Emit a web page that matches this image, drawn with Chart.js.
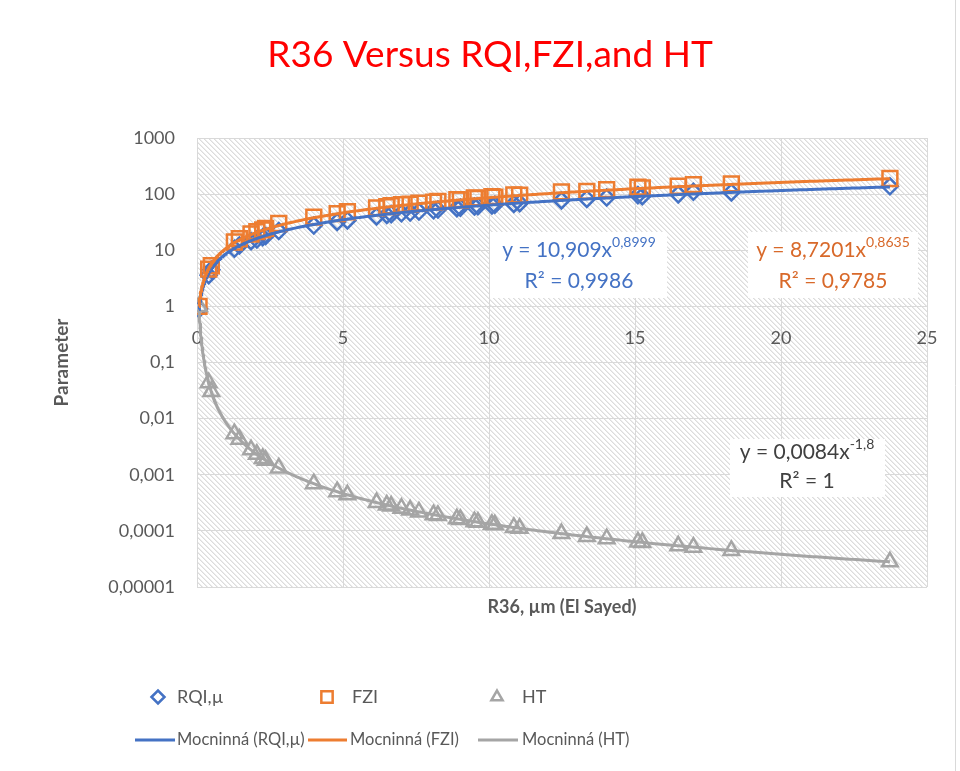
<!DOCTYPE html>
<html><head><meta charset="utf-8">
<script src="https://cdn.jsdelivr.net/npm/chart.js@4/dist/chart.umd.min.js"></script>
<style>html,body{margin:0;padding:0;background:#fff;}#wrap{width:960px;height:771px;}</style>
</head><body><div id="wrap"><canvas id="c" width="960" height="771"></canvas></div>
<script>
// ---- data ----
const xR36 = [0.07, 0.40, 0.49, 1.28, 1.45, 1.85, 2.05, 2.25, 2.35, 2.8, 4.0, 4.8, 5.15, 6.15, 6.5, 6.65, 7.0, 7.3, 7.6, 8.1, 8.25, 8.9, 9.02, 9.5, 9.62, 10.1, 10.2, 10.85, 11.05, 12.48, 13.35, 14.03, 15.1, 15.25, 16.48, 17.0, 18.3, 23.73];
const rqi = [0.9, 3.6, 4.5, 10.6, 12.2, 14.5, 15.5, 17, 18, 22, 27.5, 32, 34, 40, 42.5, 44, 45.5, 47, 49, 51.5, 53, 56, 57.5, 60, 61, 63, 64.5, 67, 69, 77, 82, 87, 96, 92, 99, 110, 107, 138];
const fzi = [1.0, 4.6, 5.3, 14, 16, 19.5, 21.5, 23, 24.5, 30, 39, 45, 48.5, 57, 60, 62, 65, 66, 69, 72, 74, 80, 79, 86, 84, 90, 88, 97, 96, 110, 112, 120, 133, 129, 138, 148, 152, 190];
const ht = [1.0, 0.0437, 0.0303, 0.00539, 0.0043, 0.00278, 0.00231, 0.00195, 0.00181, 0.00132, 0.000692, 0.000499, 0.000439, 0.000319, 0.000289, 0.000277, 0.000253, 0.000235, 0.000218, 0.000194, 0.000188, 0.000164, 0.00016, 0.000146, 0.000143, 0.000131, 0.000128, 0.000115, 0.000111, 0.0000894, 0.0000792, 0.0000724, 0.0000634, 0.0000623, 0.0000542, 0.0000512, 0.0000449, 0.0000281];
const seriesNames = ['RQI,µ', 'FZI', 'HT'];
const trendNames = ['Mocninná (RQI,µ)', 'Mocninná (FZI)', 'Mocninná (HT)'];
// power trendlines (y = a * x^b) as drawn in the reference
const trendCoef = [8.7201, 10.909, 0.0084];
const trendPow = [0.8635, 0.8999, -1.8];
const xTicks = [0, 5, 10, 15, 20, 25];
const yTicks = [0.00001, 0.0001, 0.001, 0.01, 0.1, 1, 10, 100, 1000];
const yTickLabels = ['0,00001', '0,0001', '0,001', '0,01', '0,1', '1', '10', '100', '1000'];
const chartTitle = 'R36 Versus RQI,FZI,and HT';
const eqLabels = [
  {base: 'y = 10,909x', sup: '0,8999', r2: 'R² = 0,9986'},
  {base: 'y = 8,7201x', sup: '0,8635', r2: 'R² = 0,9785'},
  {base: 'y = 0,0084x', sup: '-1,8', r2: 'R² = 1'}
];

const FONT = 'Lato, "Open Sans", sans-serif';
const TXT = '#595959';
const BLUE = '#4472C4', ORANGE = '#ED7D31', GRAY = '#A5A5A5';
const GRID = '#d9d9d9';

function trendCurve(i) {
  const x0 = xR36[0], x1 = xR36[xR36.length - 1];
  const pts = [];
  for (let k = 0; k <= 400; k++) {
    const t = k / 400;
    const x = x0 + (x1 - x0) * t * t;
    pts.push({x: x, y: trendCoef[i] * Math.pow(x, trendPow[i])});
  }
  return pts;
}
const pts = arr => xR36.map((x, i) => ({x: x, y: arr[i]}));

const hatchPlugin = {
  id: 'hatch',
  beforeDraw(chart) {
    const {ctx, chartArea: a} = chart;
    const n = 5;
    const tile = document.createElement('canvas');
    tile.width = n; tile.height = n;
    const t = tile.getContext('2d');
    t.fillStyle = '#ffffff'; t.fillRect(0, 0, n, n);
    t.fillStyle = '#dcdcdc';
    for (let i = 0; i < n; i++) t.fillRect(i, i, 1, 1);
    t.fillStyle = '#ececec';
    for (let i = 0; i < n; i++) t.fillRect((i + 1) % n, i, 1, 1);
    const pat = ctx.createPattern(tile, 'repeat');
    ctx.save();
    ctx.fillStyle = pat;
    ctx.fillRect(a.left, a.top, a.right - a.left, a.bottom - a.top);
    ctx.restore();
  }
};

function drawEq(ctx, cx, y1, y2, lab, color) {
  ctx.save();
  ctx.fillStyle = color;
  ctx.textBaseline = 'middle';
  const bf = '21px ' + FONT, sf = '14px ' + FONT;
  ctx.font = bf; const wb = ctx.measureText(lab.base).width;
  ctx.font = sf; const ws = ctx.measureText(lab.sup).width;
  const sx = cx - (wb + ws) / 2;
  ctx.font = bf; ctx.textAlign = 'left';
  ctx.fillText(lab.base, sx, y1);
  ctx.font = sf;
  ctx.fillText(lab.sup, sx + wb, y1 - 8);
  ctx.font = bf; ctx.textAlign = 'center';
  ctx.fillText(lab.r2, cx, y2);
  ctx.restore();
}

const overlayPlugin = {
  id: 'overlay',
  afterDraw(chart) {
    const ctx = chart.ctx;
    // title
    ctx.save();
    ctx.font = '37px ' + FONT;
    ctx.fillStyle = '#FF0000';
    ctx.textAlign = 'center';
    ctx.textBaseline = 'middle';
    ctx.fillText(chartTitle, 490, 55);
    ctx.restore();
    // equation boxes
    const boxes = [
      {r: [490, 232, 177, 66], cx: 579, y1: 250, y2: 281, c: BLUE, l: eqLabels[0]},
      {r: [748, 232, 170, 66], cx: 833, y1: 250, y2: 281, c: '#D8692A', l: eqLabels[1]},
      {r: [730, 439, 155, 58], cx: 807, y1: 452, y2: 481, c: '#404040', l: eqLabels[2]}
    ];
    boxes.forEach(b => {
      ctx.save(); ctx.fillStyle = '#ffffff'; ctx.fillRect(...b.r); ctx.restore();
      drawEq(ctx, b.cx, b.y1, b.y2, b.l, b.c);
    });
    // legend
    const ds = chart.data.datasets;
    ctx.save();
    ctx.textBaseline = 'middle';
    ctx.textAlign = 'left';
    ctx.font = '18px ' + FONT;
    const row1 = [[158, 177], [327, 352], [497, 522]];
    row1.forEach((p, i) => {
      const d = ds[i];
      ctx.fillStyle = 'rgba(0,0,0,0)';
      ctx.strokeStyle = d.borderColor; ctx.lineWidth = 2.5;
      Chart.helpers.drawPoint(ctx, {pointStyle: d.pointStyle, radius: d.legendRadius, borderWidth: 2.5, rotation: 0}, p[0], 697);
      ctx.fillStyle = TXT;
      ctx.fillText(seriesNames[i], p[1], 697);
    });
    ctx.font = '16.5px ' + FONT;
    const row2 = [[135, 175, 177], [308, 347, 350], [478, 518, 522]];
    row2.forEach((p, i) => {
      const d = ds[3 + i];
      ctx.beginPath(); ctx.moveTo(p[0], 740); ctx.lineTo(p[1], 740);
      ctx.strokeStyle = d.borderColor; ctx.lineWidth = 3; ctx.stroke();
      ctx.fillStyle = TXT;
      ctx.fillText(trendNames[i], p[2], 740);
    });
    // chart frame edge
    ctx.strokeStyle = GRID; ctx.lineWidth = 1;
    ctx.beginPath(); ctx.moveTo(955.5, 0); ctx.lineTo(955.5, 771); ctx.stroke();
    ctx.restore();
  }
};

const markerBase = {showLine: false, backgroundColor: 'rgba(0,0,0,0)', borderWidth: 2.5};

new Chart(document.getElementById('c'), {
  type: 'scatter',
  data: {
    datasets: [
      Object.assign({label: seriesNames[0], data: pts(rqi), pointStyle: 'rectRot', pointRadius: 8, borderColor: BLUE, legendRadius: 6.5, order: 6}, markerBase),
      Object.assign({label: seriesNames[1], data: pts(fzi), pointStyle: 'rect', pointRadius: 10.5, borderColor: ORANGE, legendRadius: 8, order: 5}, markerBase),
      Object.assign({label: seriesNames[2], data: pts(ht), pointStyle: 'triangle', pointRadius: 9, borderColor: GRAY, legendRadius: 6.5, order: 4}, markerBase),
      {label: trendNames[0], data: trendCurve(0), showLine: true, pointRadius: 0, borderColor: BLUE, borderWidth: 3, order: 2},
      {label: trendNames[1], data: trendCurve(1), showLine: true, pointRadius: 0, borderColor: ORANGE, borderWidth: 3, order: 1},
      {label: trendNames[2], data: trendCurve(2), showLine: true, pointRadius: 0, borderColor: GRAY, borderWidth: 3, order: 3}
    ]
  },
  options: {
    responsive: false,
    animation: false,
    devicePixelRatio: 1,
    layout: {padding: {left: 0, right: 33, top: 138, bottom: 0}},
    plugins: {
      legend: {display: false},
      tooltip: {enabled: false},
      title: {display: false}
    },
    scales: {
      y: {
        type: 'logarithmic', min: 0.00001, max: 1000, position: 'left',
        afterBuildTicks: s => { s.ticks = yTicks.map(v => ({value: v})); },
        afterFit: s => { s.width = 197; },
        ticks: {
          callback: v => { const i = yTicks.indexOf(v); return i >= 0 ? yTickLabels[i] : ''; },
          color: TXT, font: {family: FONT, size: 18}, padding: 22
        },
        grid: {color: GRID, lineWidth: 1, drawTicks: false},
        border: {display: true, color: GRID},
        title: {display: true, text: 'Parameter', color: TXT, font: {family: FONT, size: 19, weight: 'bold'}, padding: {top: 50, bottom: 0}}
      },
      x: {
        type: 'linear', min: 0, max: 25, position: {y: 1},
        afterBuildTicks: s => { s.ticks = xTicks.map(v => ({value: v})); },
        ticks: {color: TXT, font: {family: FONT, size: 18}, padding: 21, maxRotation: 0},
        grid: {color: GRID, lineWidth: 1, drawTicks: false},
        border: {display: false}
      },
      x2: {
        type: 'linear', min: 0, max: 25, position: 'bottom',
        ticks: {display: false}, grid: {display: false}, border: {display: false},
        afterFit: s => { s.height = 184; },
        title: {display: true, text: 'R36, µm (El Sayed)', color: TXT, font: {family: FONT, size: 18, weight: 'bold'}, padding: {top: 0, bottom: 153}}
      }
    }
  },
  plugins: [hatchPlugin, overlayPlugin]
});
</script>
</body></html>
